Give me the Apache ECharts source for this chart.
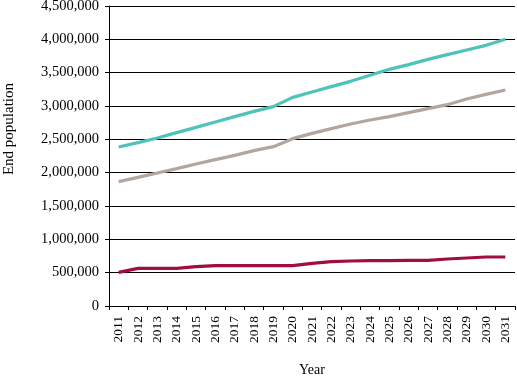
<!DOCTYPE html>
<html><head><meta charset="utf-8">
<script src="https://cdn.jsdelivr.net/npm/echarts@6/dist/echarts.min.js"></script>
<style>html,body{margin:0;padding:0;background:#fff}#c{width:517px;height:378px}</style>
</head><body><div id="c"></div>
<script>
const years = ['2011','2012','2013','2014','2015','2016','2017','2018','2019','2020','2021','2022','2023','2024','2025','2026','2027','2028','2029','2030','2031'];
const tealSeries = [2385000,2450000,2520000,2600000,2680000,2760000,2840000,2920000,2990000,3130000,3210000,3290000,3370000,3460000,3550000,3620000,3700000,3770000,3840000,3910000,4000000];
const graySeries = [1865000,1930000,1995000,2060000,2130000,2195000,2260000,2330000,2390000,2510000,2590000,2660000,2730000,2790000,2840000,2900000,2960000,3020000,3105000,3175000,3240000];
const redSeries = [505000,565000,565000,565000,590000,605000,605000,605000,605000,605000,640000,665000,675000,680000,680000,685000,685000,705000,720000,735000,735000];
const yTicks = {min:0, max:4500000, interval:500000};

const font = '"Liberation Serif", "Times New Roman", serif';
const chart = echarts.init(document.getElementById('c'), null, {renderer:'canvas'});
function mk(name, data, color){
  return {name, type:'line', data, symbol:'none', smooth:false,
    lineStyle:{color, width:3.2}, itemStyle:{color}, z:3};
}
chart.setOption({
  animation:false,
  backgroundColor:'#fff',
  grid:{left:109, right:2, top:6, bottom:72, containLabel:false, outerBoundsMode:'none'},
  xAxis:{type:'category', data:years, boundaryGap:true,
    name:'Year', nameLocation:'middle', nameGap:57,
    nameTextStyle:{fontFamily:font, fontSize:14, color:'#000'},
    axisLine:{lineStyle:{color:'#000', width:1}},
    axisTick:{show:true, alignWithLabel:false, length:4, lineStyle:{color:'#000'}},
    axisLabel:{rotate:90, interval:0, fontFamily:font, fontSize:13.5, color:'#000', margin:10},
    splitLine:{show:false}},
  yAxis:{type:'value', min:yTicks.min, max:yTicks.max, interval:yTicks.interval,
    axisLine:{show:true, lineStyle:{color:'#000', width:1}},
    axisTick:{show:true, length:4, lineStyle:{color:'#000'}},
    axisLabel:{fontFamily:font, fontSize:14.5, color:'#000', margin:10,
      formatter:v=>v.toLocaleString('en-US')},
    splitLine:{show:true, lineStyle:{color:'#000', width:1}}},
  graphic:[{type:'text', left:2, top:83, rotation:Math.PI/2,
    style:{text:'End population', fontFamily:font, fontSize:15, fill:'#000'}}],
  series:[
    mk('Teal', tealSeries, '#4EC3BA'),
    mk('Gray', graySeries, '#B3A69F'),
    mk('Red', redSeries, '#A10E3E')
  ]
});
</script></body></html>
